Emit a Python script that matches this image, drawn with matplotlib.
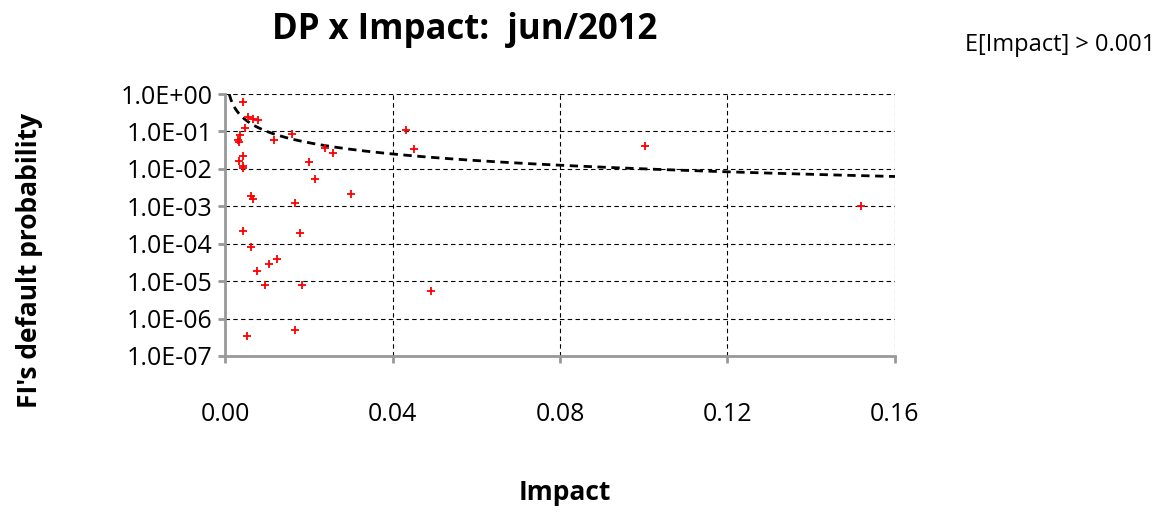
import numpy as np
import matplotlib.pyplot as plt
from matplotlib.ticker import FixedLocator

plt.rcParams['font.family'] = ['Open Sans', 'DejaVu Sans']

# Data
impact = [0.00438, 0.00557, 0.00677, 0.0078, 0.00478, 0.0161, 0.00358, 0.00318,
          0.0034, 0.01178, 0.0432, 0.0239, 0.0259, 0.0451, 0.00422, 0.0034,
          0.00438, 0.00422, 0.020, 0.0216, 0.0301, 0.0062, 0.0068, 0.0168,
          0.0042, 0.0179, 0.0063, 0.0123, 0.0106, 0.0077, 0.0095, 0.0184,
          0.0491, 0.0166, 0.0053, 0.1003, 0.1519]
dp = [0.6, 0.243, 0.219, 0.2, 0.12, 0.087, 0.08, 0.059,
      0.053, 0.058, 0.11, 0.036, 0.026, 0.034, 0.022, 0.016,
      0.012, 0.0105, 0.0149, 0.0052, 0.0021, 0.0019, 0.0016, 0.00125,
      2.2e-4, 1.9e-4, 8.1e-5, 4e-5, 2.8e-5, 1.9e-5, 7.7e-6, 8.1e-6,
      5.5e-6, 5.0e-7, 3.4e-7, 0.041, 0.001]
threshold = 0.001
x_ticks = [0.00, 0.04, 0.08, 0.12, 0.16]
y_ticks = [1e-7, 1e-6, 1e-5, 1e-4, 1e-3, 1e-2, 1e-1, 1e0]

fig = plt.figure(figsize=(11.64, 5.14), dpi=100)
ax = fig.add_axes([225/1164, 1-356/514, 670/1164, 262/514])

xc = np.linspace(threshold, 0.16, 400)
ax.plot(xc, threshold / xc, 'k--', lw=2, dashes=(3, 2))
ax.scatter(impact, dp, marker='+', color='red', s=35, lw=1.3, zorder=3)

ax.set_yscale('log')
ax.set_xlim(0, 0.16)
ax.set_ylim(1e-7, 1)
ax.xaxis.set_major_locator(FixedLocator(x_ticks))
ax.yaxis.set_major_locator(FixedLocator(y_ticks))
ax.yaxis.set_minor_locator(FixedLocator([]))
ax.set_xticklabels([f"{t:.2f}" for t in x_ticks])
ax.set_yticklabels([f"{t:.1E}" for t in y_ticks])
ax.grid(True, color='black', ls='--', lw=0.8, dashes=(4, 3))
for s in ['top', 'right']:
    ax.spines[s].set_visible(False)
for s in ['left', 'bottom']:
    ax.spines[s].set_color('#999999')
    ax.spines[s].set_linewidth(2)
ax.tick_params(labelsize=18, color='#999999', width=2, length=5)
ax.tick_params(axis='x', pad=28)
ax.tick_params(axis='y', pad=4)

fig.text(465/1164, 1-30/514, "DP x Impact:  jun/2012", fontsize=25, fontweight='bold',
         ha='center', va='center')
fig.text(1155/1164, 1-45/514, "E[Impact] > 0.001", fontsize=17, ha='right', va='center')
fig.text(565/1164, 1-493/514, "Impact", fontsize=19, fontweight='bold', ha='center', va='center')
fig.text(30/1164, 1-260/514, "FI's default probability", fontsize=19, fontweight='bold',
         rotation=90, ha='center', va='center')

fig.savefig('out.png', dpi=100)
